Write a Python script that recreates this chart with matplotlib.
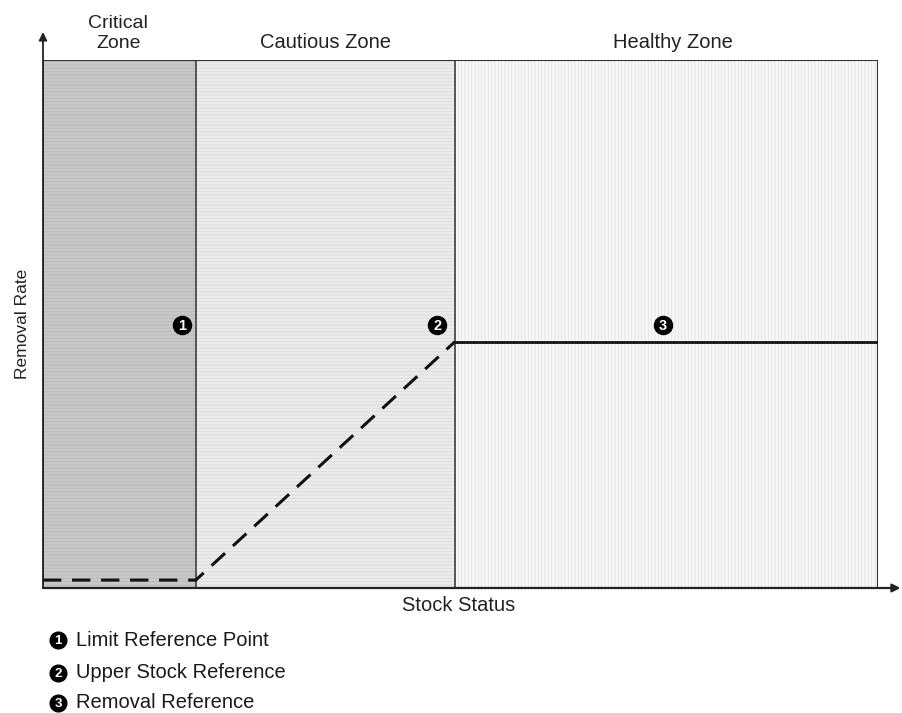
import matplotlib.pyplot as plt
from matplotlib.patches import Rectangle

plt.rcParams['font.family'] = ['Liberation Sans', 'DejaVu Sans']
plt.rcParams['hatch.linewidth'] = 0.6

# Zone boundaries along stock status (fraction of axis)
zone_names = ["Critical\nZone", "Cautious Zone", "Healthy Zone"]
zone_edges = [0.0, 0.183, 0.493, 1.0]
zone_label_x = [0.09, 0.338, 0.754]
zone_fill = ["#c8c8c8", "#ebebeb", "#f8f8f8"]
zone_hatch_color = ["#b9b9b9", "#dcdcdc", "#e2e2e2"]
zone_hatch = ["-----", "-----", "|||||"]

# Harvest control rule (removal rate vs stock status)
hcr_x_dashed = [0.0, 0.183, 0.493]
hcr_y_dashed = [0.015, 0.015, 0.466]
hcr_x_solid = [0.493, 1.0]
hcr_y_solid = [0.466, 0.466]

# Numbered reference markers
ref_labels = ["1", "2", "3"]
ref_x = [0.167, 0.472, 0.7425]
ref_y = [0.498, 0.498, 0.498]
legend_text = ["Limit Reference Point", "Upper Stock Reference", "Removal Reference"]

fig = plt.figure(figsize=(9.02, 7.13), dpi=100)
ax = fig.add_axes([43 / 902, 1 - 588 / 713, 835 / 902, 528 / 713])
ax.set_xlim(0, 1)
ax.set_ylim(0, 1)
ax.axis("off")

for i in range(3):
    x0, x1 = zone_edges[i], zone_edges[i + 1]
    ax.add_patch(Rectangle((x0, 0), x1 - x0, 1, facecolor=zone_fill[i],
                           edgecolor=zone_hatch_color[i], hatch=zone_hatch[i],
                           linewidth=0, zorder=1))
    ax.text(zone_label_x[i], 1.016, zone_names[i], ha="center", va="bottom",
            fontsize=14.5 if i else 14, color="#222", linespacing=1.2)

# zone dividers and box
for xe in zone_edges[1:-1]:
    ax.plot([xe, xe], [0, 1], color="#555", lw=1.4, zorder=2)
ax.plot([0, 1, 1], [1, 1, 0], color="#333", lw=1.5, zorder=2)
ax.plot([0, 0], [0, 1], color="#444", lw=1.4, zorder=2)

# axis arrows
ax.annotate("", xy=(0, 1.053), xytext=(0, 0), xycoords="axes fraction",
            arrowprops=dict(arrowstyle="-|>", color="#222", lw=1.3,
                            mutation_scale=12, shrinkA=0, shrinkB=0),
            annotation_clip=False)
ax.annotate("", xy=(1.027, 0), xytext=(0, 0), xycoords="axes fraction",
            arrowprops=dict(arrowstyle="-|>", color="#222", lw=1.6,
                            mutation_scale=12, shrinkA=0, shrinkB=0),
            annotation_clip=False)

ax.plot(hcr_x_dashed, hcr_y_dashed, color="#111", lw=2.2,
        dashes=(6, 3.5), zorder=3, clip_on=False)
ax.plot(hcr_x_solid, hcr_y_solid, color="#111", lw=2.0, zorder=3)

for lab, x, y in zip(ref_labels, ref_x, ref_y):
    ax.plot(x, y, "o", ms=13, color="black", zorder=4)
    ax.text(x, y - 0.002, lab, ha="center", va="center", color="white",
            fontsize=10.5, fontweight="bold", zorder=5)

ax.text(-0.025, 0.5, "Removal Rate", rotation=90, ha="center", va="center",
        fontsize=12.5, color="#222", transform=ax.transAxes)
ax.text(0.498, -0.016, "Stock Status", ha="center", va="top",
        fontsize=14.5, color="#222")

# legend below the plot
leg_y = [640, 673, 703]
for lab, txt, py in zip(ref_labels, legend_text, leg_y):
    fy = 1 - py / 713
    fig.lines.append(plt.Line2D([58 / 902], [fy], marker="o", ms=12,
                                color="black", transform=fig.transFigure))
    fig.text(58 / 902, fy - 0.001, lab, ha="center", va="center",
             color="white", fontsize=9.5, fontweight="bold")
    fig.text(76 / 902, fy, txt, ha="left", va="center", fontsize=14.5,
             color="#1a1a1a")

fig.savefig("out.png", dpi=100, facecolor="white")
